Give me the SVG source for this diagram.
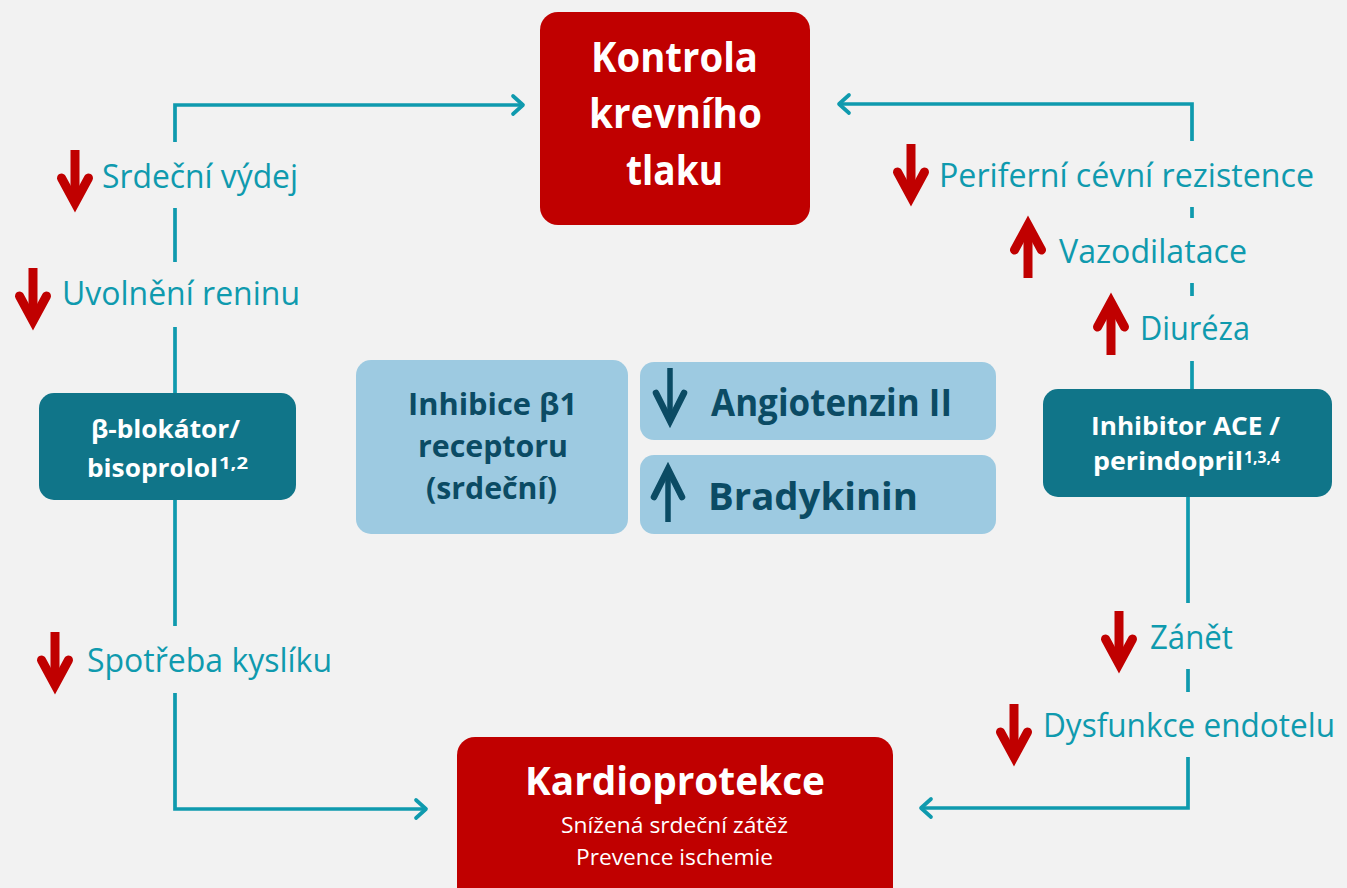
<svg xmlns="http://www.w3.org/2000/svg" xmlns:xlink="http://www.w3.org/1999/xlink" width="1347" height="888" viewBox="0 0 1347 888">
<style>
.bg{fill:#f2f2f2}
.red{fill:#c00000}
.tealbox{fill:#107589}
.light{fill:#9dcae1}
.conn{fill:none;stroke:#0f9aae;stroke-width:3.7}
.lbl{font-family:"Open Sans","Noto Sans",sans-serif;font-size:33px;fill:#0f9aae}
.wb{font-family:"Open Sans","Noto Sans",sans-serif;font-weight:bold;fill:#ffffff}
.wr{font-family:"Open Sans","Noto Sans",sans-serif;fill:#ffffff}
.db{font-family:"Open Sans","Noto Sans",sans-serif;font-weight:bold;fill:#0b4b64}
</style>
<defs>
<marker id="ah" viewBox="-13 -12 16 24" markerWidth="16" markerHeight="24" refX="0" refY="0" orient="auto" markerUnits="userSpaceOnUse">
<path d="M-10,-9 L0,0 L-10,9" fill="none" stroke="#0f9aae" stroke-width="3.7" stroke-linecap="round" stroke-linejoin="round"/>
</marker>
<g id="rdown">
<line x1="0" y1="0" x2="0" y2="50" stroke="#c00000" stroke-width="9"/>
<polyline points="-13.5,28 0,53 13.5,28" fill="none" stroke="#c00000" stroke-width="9" stroke-linecap="round" stroke-linejoin="miter" stroke-miterlimit="10"/>
</g>
<g id="ddown">
<line x1="0" y1="0" x2="0" y2="50" stroke="#0b4b64" stroke-width="5.5"/>
<polyline points="-14,25 0,53 14,25" fill="none" stroke="#0b4b64" stroke-width="6.5" stroke-linecap="round" stroke-linejoin="miter" stroke-miterlimit="10"/>
</g>
</defs>
<rect class="bg" x="0" y="0" width="1347" height="888"/>

<g id="connectors">
<path class="conn" d="M175,142 V105 H523" marker-end="url(#ah)"/>
<path class="conn" d="M175,208 V262"/>
<path class="conn" d="M175,327 V393"/>
<path class="conn" d="M175,500 V626"/>
<path class="conn" d="M175,693 V809 H426" marker-end="url(#ah)"/>
<path class="conn" d="M1192,141 V104 H839" marker-end="url(#ah)"/>
<path class="conn" d="M1192,207 V218"/>
<path class="conn" d="M1192,283 V296"/>
<path class="conn" d="M1192,361 V389"/>
<path class="conn" d="M1188,497 V603"/>
<path class="conn" d="M1188,669 V692"/>
<path class="conn" d="M1188,757 V808 H921" marker-end="url(#ah)"/>
</g>

<g id="node-kontrola">
<rect class="red" x="540" y="12" width="270" height="213" rx="18"/>
<text class="wb" x="591" y="72" font-size="41" textLength="167" lengthAdjust="spacingAndGlyphs">Kontrola</text>
<text class="wb" x="589" y="128" font-size="41" textLength="173" lengthAdjust="spacingAndGlyphs">krevního</text>
<text class="wb" x="626" y="185" font-size="41" textLength="97" lengthAdjust="spacingAndGlyphs">tlaku</text>
</g>

<g id="node-kardioprotekce">
<rect class="red" x="457" y="737" width="436" height="170" rx="18"/>
<text class="wb" x="525" y="795" font-size="40" textLength="300" lengthAdjust="spacingAndGlyphs">Kardioprotekce</text>
<text class="wr" x="561" y="833" font-size="22" textLength="227" lengthAdjust="spacingAndGlyphs">Snížená srdeční zátěž</text>
<text class="wr" x="576" y="865" font-size="22" textLength="197" lengthAdjust="spacingAndGlyphs">Prevence ischemie</text>
</g>

<g id="node-bblokator">
<rect class="tealbox" x="39" y="393" width="257" height="107" rx="15"/>
<text class="wb" x="91" y="438" font-size="25" textLength="149" lengthAdjust="spacingAndGlyphs">β-blokátor/</text>
<text class="wb" x="87" y="477" font-size="25" textLength="131" lengthAdjust="spacingAndGlyphs">bisoprolol</text>
<text class="wb" x="219" y="469" font-size="16" textLength="29" lengthAdjust="spacingAndGlyphs">1,2</text>
</g>

<g id="node-ace">
<rect class="tealbox" x="1043" y="389" width="289" height="108" rx="15"/>
<text class="wb" x="1091" y="435" font-size="25" textLength="189" lengthAdjust="spacingAndGlyphs">Inhibitor ACE /</text>
<text class="wb" x="1093" y="470" font-size="25" textLength="150" lengthAdjust="spacingAndGlyphs">perindopril</text>
<text class="wb" x="1244" y="463" font-size="16" textLength="36" lengthAdjust="spacingAndGlyphs">1,3,4</text>
</g>

<g id="node-inhibice">
<rect class="light" x="356" y="360" width="272" height="174" rx="15"/>
<text class="db" x="408" y="415" font-size="30" textLength="169" lengthAdjust="spacingAndGlyphs">Inhibice β1</text>
<text class="db" x="418" y="457" font-size="30" textLength="150" lengthAdjust="spacingAndGlyphs">receptoru</text>
<text class="db" x="426" y="499" font-size="30" textLength="131" lengthAdjust="spacingAndGlyphs">(srdeční)</text>
</g>

<g id="node-angiotenzin">
<rect class="light" x="640" y="362" width="356" height="78" rx="14"/>
<use xlink:href="#ddown" transform="translate(670,368)"/>
<text class="db" x="711" y="416" font-size="38" textLength="241" lengthAdjust="spacingAndGlyphs">Angiotenzin II</text>
</g>

<g id="node-bradykinin">
<rect class="light" x="640" y="455" width="356" height="79" rx="14"/>
<use xlink:href="#ddown" transform="translate(668,522) scale(1,-1)"/>
<text class="db" x="708" y="510" font-size="38" textLength="210" lengthAdjust="spacingAndGlyphs">Bradykinin</text>
</g>

<g id="label-srdecni-vydej">
<use xlink:href="#rdown" transform="translate(75,150)"/>
<text class="lbl" x="102" y="188" textLength="196" lengthAdjust="spacingAndGlyphs">Srdeční výdej</text>
</g>
<g id="label-uvolneni-reninu">
<use xlink:href="#rdown" transform="translate(33,268)"/>
<text class="lbl" x="62" y="305" textLength="238" lengthAdjust="spacingAndGlyphs">Uvolnění reninu</text>
</g>
<g id="label-spotreba-kysliku">
<use xlink:href="#rdown" transform="translate(55,632)"/>
<text class="lbl" x="87" y="672" textLength="245" lengthAdjust="spacingAndGlyphs">Spotřeba kyslíku</text>
</g>
<g id="label-periferni">
<use xlink:href="#rdown" transform="translate(911,144)"/>
<text class="lbl" x="939" y="187" textLength="375" lengthAdjust="spacingAndGlyphs">Periferní cévní rezistence</text>
</g>
<g id="label-vazodilatace">
<use xlink:href="#rdown" transform="translate(1028,278) scale(1,-1)"/>
<text class="lbl" x="1059" y="263" textLength="188" lengthAdjust="spacingAndGlyphs">Vazodilatace</text>
</g>
<g id="label-diureza">
<use xlink:href="#rdown" transform="translate(1111,355) scale(1,-1)"/>
<text class="lbl" x="1140" y="340" textLength="110" lengthAdjust="spacingAndGlyphs">Diuréza</text>
</g>
<g id="label-zanet">
<use xlink:href="#rdown" transform="translate(1119,611)"/>
<text class="lbl" x="1150" y="649" textLength="83" lengthAdjust="spacingAndGlyphs">Zánět</text>
</g>
<g id="label-dysfunkce">
<use xlink:href="#rdown" transform="translate(1014,704)"/>
<text class="lbl" x="1043" y="737" textLength="292" lengthAdjust="spacingAndGlyphs">Dysfunkce endotelu</text>
</g>
</svg>
